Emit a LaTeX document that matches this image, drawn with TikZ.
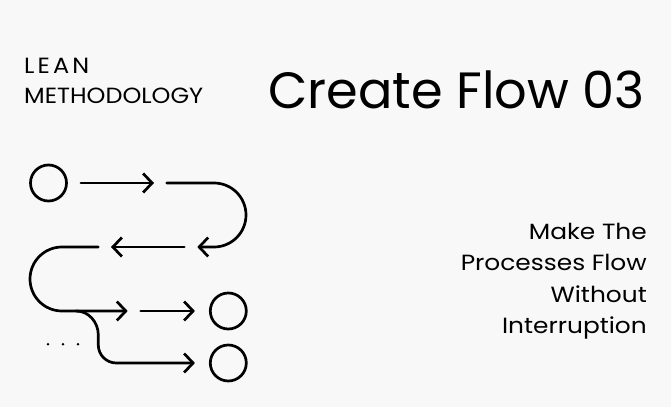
\documentclass[tikz,border=0pt]{standalone}
\usepackage{fontspec}
\setmainfont{Poppins}
\newfontfamily\widefont[FakeStretch=1.09]{Poppins}
\newfontfamily\widerfont[FakeStretch=1.13]{Poppins}
\usetikzlibrary{arrows.meta,calc}
\definecolor{paper}{RGB}{248,248,248}
\tikzset{
  flow/.style={line width=2.7pt, line cap=round, -{Straight Barb[length=9pt,width=19pt]}},
  stop/.style={draw, circle, line width=2.7pt, minimum size=36pt, inner sep=0pt},
  label/.style={inner sep=0pt, font=\widerfont\fontsize{22}{26}\selectfont},
  head/.style={inner sep=0pt, anchor=base west, font=\widefont\fontsize{22}{26}\selectfont},
}

\begin{document}
\begin{tikzpicture}[x=1pt,y=1pt]
\fill [paper] (0,0) rectangle (671,407);
\useasboundingbox (0,0) rectangle (671,407);
% headings
\node [head] (lean) at (24,333.7) {\addfontfeature{LetterSpace=14}LEAN};
\node [head] (method) at (24,303) {METHODOLOGY};
\node [inner sep=0pt, anchor=base west, font=\fontsize{51}{56}\selectfont] (title) at (268,298.5) {Create Flow 03};
% text on the right
\node [label, anchor=base east] (l1) at (647,167.7) {Make The};
\node [label, anchor=base east] (l2) at (647,136) {Processes Flow};
\node [label, anchor=base east] (l3) at (647,105) {Without};
\node [label, anchor=base east] (l4) at (647,74) {Interruption};

% the flow
\node [stop] (start) at (48.5,224) {};
\node [stop] (end1) at (228.3,96) {};
\node [stop] (end2) at (228.3,44) {};
\coordinate (a1) at (154,224);
\coordinate (b1) at (166.7,224);
\coordinate (b2) at (197.3,160);
\coordinate (c1) at (184.3,160);
\coordinate (c2) at (111,160);
\coordinate (d1) at (98.3,160);
\coordinate (d2) at (127.7,96);
\coordinate (e1) at (140.7,96);
\coordinate (fork) at (76,96);

\draw [flow, shorten <=13pt] (start) -- (a1);
\draw [flow] (b1) -- (214,224) arc [start angle=90, end angle=-90, radius=32] -- (b2);
\draw [flow] (c1) -- (c2);
\draw [flow] (d1) -- (62,160) arc [start angle=90, end angle=270, radius=32] -- (d2);
\draw [flow, shorten >=14pt] (e1) -- (end1);
\draw [flow, shorten >=14pt] (fork) to [out=0, in=90] (98.3,72) -- (98.3,62) arc [start angle=180, end angle=270, radius=18] -- (end2);
\foreach \x in {48,63,78} \fill (\x,62.7) circle (1.4);
\end{tikzpicture}
\end{document}
